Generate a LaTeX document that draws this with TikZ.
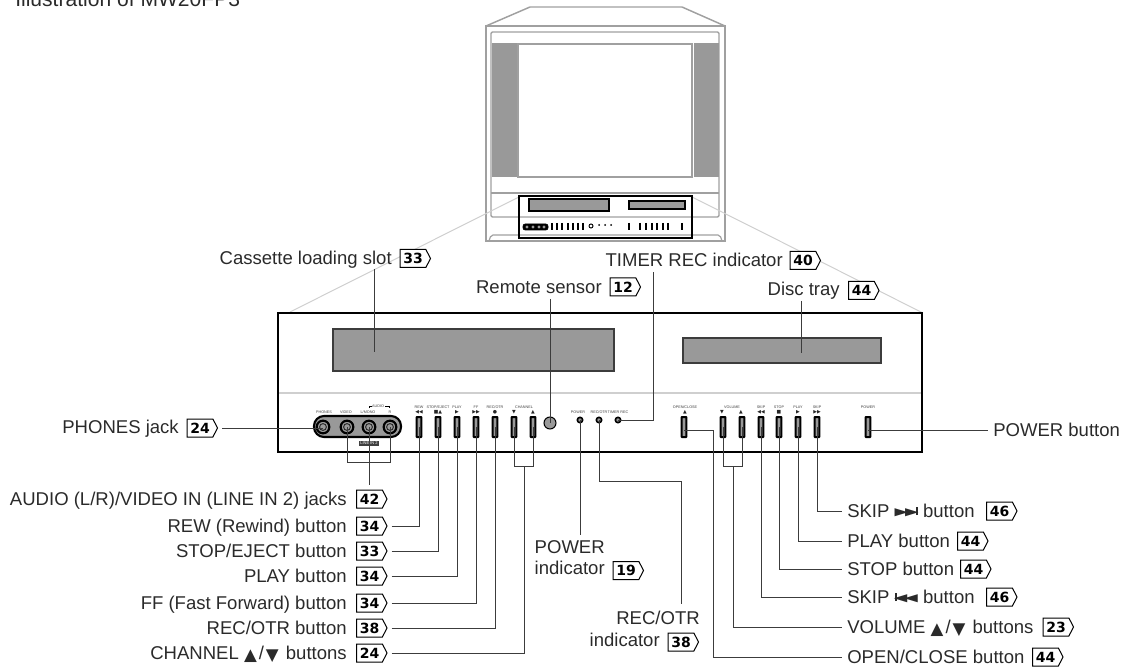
\documentclass[tikz,border=0pt]{standalone}
\usepackage{fontspec}
\setmainfont{Liberation Sans}
\newfontfamily\symf{DejaVu Sans}
\usetikzlibrary{shapes.symbols}
\definecolor{tvgray}{HTML}{A0A0A0}
\definecolor{fillgray}{HTML}{999999}
\definecolor{lightl}{HTML}{CFCFCF}
\definecolor{linec}{HTML}{3C3C3C}
\definecolor{txt}{HTML}{2A2A2A}
\newcommand{\tri}[1]{{\symf\fontsize{12.5pt}{13pt}\selectfont\raisebox{-.3pt}{#1}}}
\newcommand{\updown}{\tri{▲}\kern1.5pt/\kern1.5pt\tri{▼}\kern1.5pt}
\newcommand{\skf}{\raisebox{1.3pt}{\scalebox{1.65}[1]{\symf\fontsize{8pt}{9pt}\selectfont ▶\kern-1.4pt▶\kern-1.2pt\rule[.55pt]{.9pt}{6pt}}}}
\newcommand{\skb}{\raisebox{1.3pt}{\scalebox{1.65}[1]{\symf\fontsize{8pt}{9pt}\selectfont \rule[.55pt]{.9pt}{6pt}\kern-1.2pt◀\kern-1.4pt◀}}}
\tikzset{
  x=0.75pt,y=-0.75pt,
  lab/.style={font=\fontsize{13.9pt}{16pt}\selectfont,text=txt,inner sep=0pt,text height=10pt,text depth=0pt},
  badge/.style={draw=black,line width=.75pt,fill=white,shape=signal,signal to=east,signal from=nowhere,signal pointer angle=125,
     minimum width=22.8pt,minimum height=13.5pt,inner sep=0pt,font=\fontsize{10.5pt}{11pt}\selectfont\symf\bfseries,text=black},
  conn/.style={draw=linec,line width=.75pt},
  guide/.style={draw=lightl,line width=.75pt},
  tvl/.style={draw=tvgray,line width=1.1pt},
  btn/.style={draw=black,fill=fillgray,line width=1.5pt,minimum width=3.6pt,minimum height=15pt,inner sep=0pt,rounded corners=.4pt},
  minitext/.style={font=\fontsize{2.8pt}{3.2pt}\selectfont,text=black!75,inner sep=0pt},
  minisym/.style={font=\fontsize{3.6pt}{4pt}\selectfont\symf,text=black!85,inner sep=0pt},
  jack/.style={circle,draw=black,fill=fillgray,line width=1.6pt,minimum size=9.5pt,inner sep=0pt},
  ind/.style={circle,draw=black,fill=fillgray,line width=1.2pt,minimum size=4pt,inner sep=0pt},
}
\begin{document}
\begin{tikzpicture}
\useasboundingbox (0,0) rectangle (1125,670);
% caption, cut by the top edge
\node[lab,anchor=west,font=\fontsize{15.8pt}{18pt}\selectfont,text height=11.3pt] (cap) at (15,-1.5) {Illustration of MW20FP3};

% ---------- television
\draw[tvl] (486,26) -- (530,7) -- (682,7) -- (725,26);
\draw[tvl] (486,241) -- (486,26) -- (725,26) -- (725,241) -- cycle;
\draw[tvl,rounded corners=1pt] (491,217) -- (491,32) -- (719,32) -- (719,217) -- cycle;
\fill[fillgray] (492,43) rectangle (517,177);
\fill[fillgray] (694,43) rectangle (719,177);
\draw[tvl,line width=1.6pt,fill=white] (518,44) rectangle (692,177);
\draw[tvl] (491,193) -- (719,193);
\draw[tvl,line width=.9pt,rounded corners=1.5pt] (489,241) -- (491,235) -- (720,235) -- (722,241);
\draw[guide] (519,197) -- (290,312);
\draw[guide] (692,197) -- (923,313);
\draw[draw=black,line width=.8pt] (519,196) rectangle (692,238);
\draw[draw=black,fill=fillgray,line width=1pt] (529,199) rectangle (609,211);
\draw[draw=black,fill=fillgray,line width=1pt] (629,201) rectangle (685,209);
\draw[fill=black,rounded corners=1.5pt] (523,224) rectangle (548,230);
\foreach \x in {527,533,539,544} \fill[fillgray] (\x,227) circle[radius=1.6];
\foreach \x in {552,557,562,568,573,578,583,629,640,646,652,657,663,668,682}
  \draw[black,line width=1.3pt] (\x,223) -- (\x,230);
\draw[black,line width=.7pt] (591,226) circle[radius=2];
\foreach \x in {599,605,611} \fill[black] (\x,225) circle[radius=1];

% ---------- control panel
\draw[draw=black,line width=2.1pt,fill=white] (278,313) rectangle (922,452);
\draw[lightl,line width=.75pt] (279,393) -- (921,393);
\draw[draw=linec,fill=fillgray,line width=1.5pt] (333,329) rectangle (614,371);
\draw[draw=linec,fill=fillgray,line width=1.5pt] (683,338) rectangle (881,363);

% jack strip
\draw[draw=black,fill=fillgray,line width=1.6pt,rounded corners=7.5pt] (314,416) rectangle (401,437);
\node[jack] (jP) at (323,427) {};
\node[jack] (jV) at (347,427) {};
\node[jack] (jL) at (369,427) {};
\node[jack] (jR) at (390,427) {};
\foreach \n in {jP,jV,jL,jR} \draw[black!85,line width=.7pt] (\n.center) circle[radius=3.4];
\node[minitext] (mP) at (324,412) {PHONES};
\node[minitext] (mV) at (346,412) {VIDEO};
\node[minitext] (mL) at (368,412) {L/MONO};
\node[minitext] (mR) at (390,412) {R};
\node[minitext] (mA) at (378,406) {AUDIO};
\draw[black,line width=.6pt] (369,408) -- (369,406) -- (372,406);
\draw[black,line width=.6pt] (385,406) -- (389,406) -- (389,408);
\node[fill=black!75,text=white,font=\fontsize{3pt}{3.5pt}\selectfont,inner sep=0pt,minimum width=15.5pt,minimum height=4pt] (mT) at (369,443.5) {LINE IN 2};

% buttons
\foreach \n/\x in {bRew/419,bStop/438,bPlay/457,bFF/476,bRec/495,bChD/514,bChU/533,bOpen/684,bVolD/723,bVolU/742,bSkB/761,bSt/779,bPl/798,bSkF/817,bPow/868}
  \node[btn] (\n) at (\x,427) {};
\foreach \t/\x in {REW/419,{STOP/EJECT}/438,PLAY/457,FF/476,{REC/OTR}/495,CHANNEL/524,{OPEN/CLOSE}/685,VOLUME/732,SKIP/761,STOP/779,PLAY/798,SKIP/817,POWER/868}
  \node[minitext] (mt\x) at (\x,407.5) {\t};
\foreach \t/\x in {◀◀/419,■▲/438,▶/457,▶▶/476,●/495,▼/514,▲/533,▲/685,▼/722,▲/741,◀◀/761,■/779,▶/798,▶▶/817}
  \node[minisym] (ms\x) at (\x,412.5) {\t};
\node[circle,draw=black,fill=fillgray,line width=.8pt,minimum size=9pt,inner sep=0pt] (sensor) at (550,423) {};
\node[ind] (iP) at (580,420) {};
\node[ind] (iR) at (599,420) {};
\node[ind] (iT) at (618,420) {};
\node[minitext] (miP) at (578,412) {POWER};
\node[minitext] (miR) at (599,412) {REC/OTR};
\node[minitext] (miT) at (618,412) {TIMER REC};

% ---------- labels above the panel
\node[badge] (n33) at (413,258.5) {33};
\node[lab,anchor=east] (tSlot) at (392,258) {Cassette loading slot};
\node[badge] (n40) at (803,260.5) {40};
\node[lab,anchor=east] (tTimer) at (783,259.5) {TIMER REC indicator};
\node[badge] (n12) at (623,287) {12};
\node[lab,anchor=east] (tRem) at (602,287) {Remote sensor};
\node[badge] (n44t) at (861.5,290.5) {44};
\node[lab,anchor=east] (tDisc) at (840,289) {Disc tray};

% ---------- left labels
\foreach \n/\y/\t/\v in {
  a/499/{AUDIO (L/R)/VIDEO IN (LINE IN 2) jacks}/42,
  b/526/{REW (Rewind) button}/34,
  c/551/{STOP/EJECT button}/33,
  d/576/{PLAY button}/34,
  e/603/{FF (Fast Forward) button}/34,
  f/628/{REC/OTR button}/38,
  g/653/{CHANNEL \updown{} buttons}/24}{
  \node[badge] (n\n) at (369.5,\y) {\v};
  \node[lab,anchor=east] (t\n) at (347,\y) {\t};
}
\node[badge] (nPh) at (200,428) {24};
\node[lab,anchor=east] (tPh) at (179,427) {PHONES jack};

% ---------- middle labels
\node[lab,anchor=east] (tPI) at (605,547) {POWER};
\node[lab,anchor=east] (tPI2) at (605,568) {indicator};
\node[badge] (n19) at (626,570.5) {19};
\node[lab,anchor=east] (tRO) at (700,618) {REC/OTR};
\node[lab,anchor=east] (tRO2) at (660,640) {indicator};
\node[badge] (n38m) at (681,642) {38};

% ---------- right labels
\foreach \n/\y/\t/\v/\xx in {
  p/511/{SKIP \skf{} button}/46/{999.5},
  q/541/{PLAY button}/44/{970.5},
  r/569/{STOP button}/44/{973.5},
  s/597/{SKIP \skb{} button}/46/{999.5},
  u/627/{VOLUME \updown{} buttons}/23/{1056},
  v/657/{OPEN/CLOSE button}/44/{1045.5}}{
  \node[lab,anchor=west] (t\n) at (847,\y) {\t};
  \node[badge] (n\n) at (\xx,\y) {\v};
}
\node[lab,anchor=west] (tPow) at (993,430) {POWER button};

% ---------- connectors
\coordinate (cSlotTop) at (374,269);
\coordinate (cSlotEnd) at (374,352);
\draw[conn] (cSlotTop) -- (cSlotEnd);
\coordinate (cRemTop) at (550,299);
\draw[conn] (cRemTop) -- (sensor.center);
\coordinate (cTimTop) at (653,272);
\draw[conn] (iT.center) -| (cTimTop);
\coordinate (cDiscTop) at (801,301);
\coordinate (cDiscEnd) at (801,353);
\draw[conn] (cDiscTop) -- (cDiscEnd);

\draw[conn,shorten <=3pt] (nPh.east) -- (jP.center |- nPh.east);
\coordinate (cAV) at (347,462);
\coordinate (cAR) at (390,462);
\draw[conn] (jV.center) -- (cAV) -- (cAR) -- (jR.center);
\coordinate (cAL) at (369,485);
\draw[conn] (jL.center) -- (cAL);
\foreach \n/\b in {b/bRew,c/bStop,d/bPlay,e/bFF,f/bRec}
  \draw[conn,shorten <=3pt] (n\n.east) -| (\b.center);
\coordinate (cChL) at (514,466);
\coordinate (cChR) at (533,466);
\coordinate (cChM) at (524,466);
\draw[conn] (bChD.center) -- (cChL) -- (cChR) -- (bChU.center);
\draw[conn,shorten <=3pt] (ng.east) -| (cChM);

\coordinate (cPI) at (581,535);
\draw[conn] (iP.center) -- (iP.center |- cPI);
\coordinate (cRO1) at (681,481);
\coordinate (cRO2) at (681,604);
\draw[conn] (iR.center) |- (cRO1) -- (cRO2);

\coordinate (cOp) at (713,430);
\draw[conn,shorten >=3.5pt] (bOpen.center |- cOp) -- (cOp) |- (tv.west);
\coordinate (cVL) at (723,466);
\coordinate (cVR) at (742,466);
\coordinate (cVM) at (733,466);
\draw[conn] (bVolD.center) -- (cVL) -- (cVR) -- (bVolU.center);
\draw[conn,shorten >=3.5pt] (cVM) |- (tu.west);
\draw[conn,shorten >=3.5pt] (bSkB.center) |- (ts.west);
\draw[conn,shorten >=3.5pt] (bSt.center) |- (tr.west);
\draw[conn,shorten >=3.5pt] (bPl.center) |- (tq.west);
\draw[conn,shorten >=3.5pt] (bSkF.center) |- (tp.west);
\draw[conn,shorten >=3.5pt] (bPow.center |- tPow.west) -- (tPow.west);
\end{tikzpicture}
\end{document}
